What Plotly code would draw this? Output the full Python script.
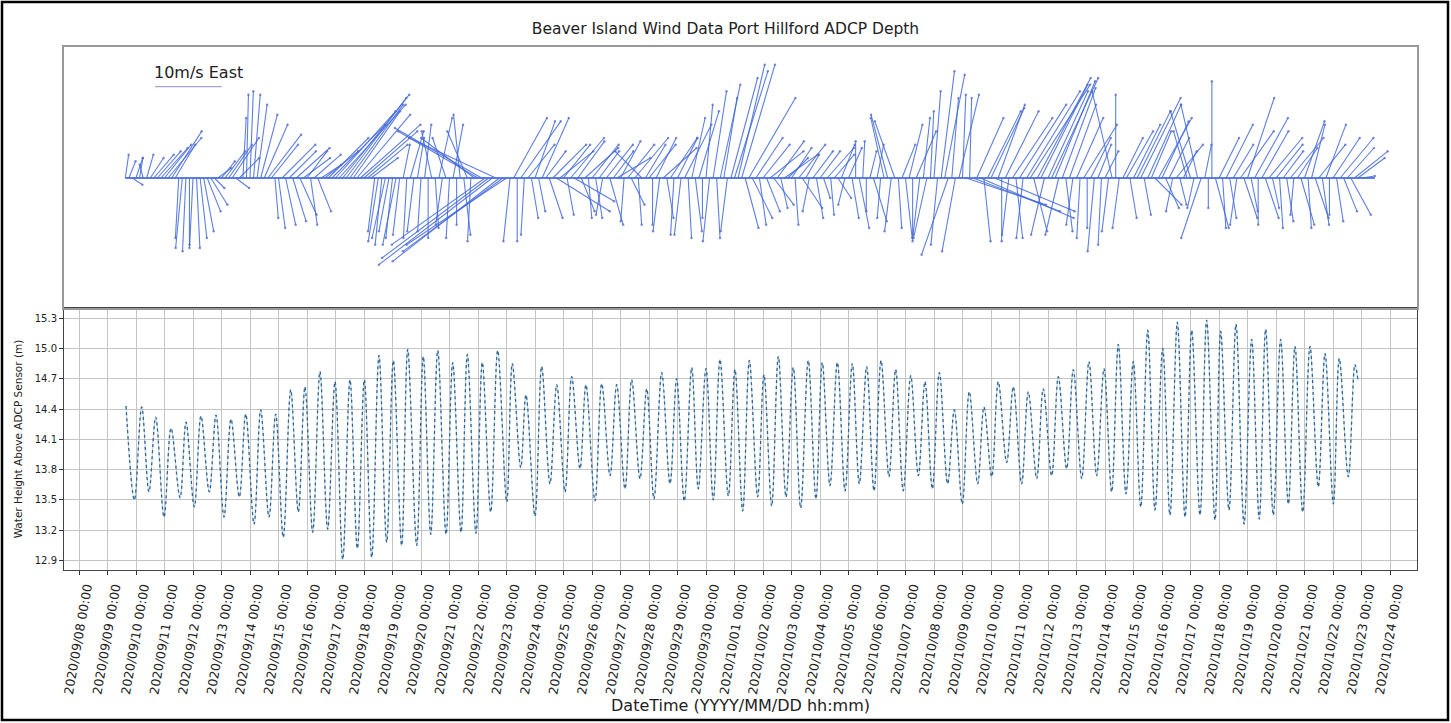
import pandas as pd
import plotly.graph_objects as go

# ---------------- data ----------------
chart_title = "Beaver Island Wind Data Port Hillford ADCP Depth"
y_title = "Water Height Above ADCP Sensor (m)"
x_title = "DateTime (YYYY/MM/DD hh:mm)"
key_label = "10m/s East"
key_speed = 10.0
key_time = "2020-09-10 16:00"
key_level = 13.7

ref_time = "2020-09-08 00:00"
# tide extremes: hours after ref_time, and height (m)
tide_hours = [39.6, 46.6, 52.8, 58.9, 64.6, 71.6, 77.5, 85.1, 90.1, 97.1, 102.7, 109.7,
              115.4, 122.1, 128.0, 135.0, 140.4, 147.4, 153.0, 160.0, 165.6, 172.0, 178.3, 184.7,
              190.3, 196.8, 202.9, 209.4, 215.6, 222.1, 228.2, 234.4, 240.3, 246.5, 252.6, 259.1,
              264.7, 271.7, 276.8, 284.4, 289.9, 296.2, 302.1, 309.1, 314.7, 321.7, 327.0, 334.3,
              339.6, 346.7, 352.6, 360.2, 364.9, 372.0, 376.4, 384.0, 389.6, 396.6, 402.3, 409.3,
              414.9, 421.9, 426.9, 434.5, 440.2, 447.2, 452.8, 459.8, 465.4, 472.4, 478.1, 484.2,
              490.7, 497.7, 503.3, 509.7, 516.0, 521.5, 528.0, 534.1, 539.8, 546.8, 552.4, 558.9,
              564.5, 571.5, 576.8, 583.3, 588.9, 595.4, 601.5, 607.7, 614.1, 620.6, 625.9, 632.4,
              638.6, 645.1, 651.2, 657.1, 663.3, 669.5, 675.4, 682.1, 687.7, 694.1, 700.4, 706.8,
              712.4, 718.6, 724.5, 731.5, 737.1, 743.8, 749.7, 756.8, 762.1, 768.6, 774.1, 781.2,
              786.8, 793.8, 799.4, 806.5, 812.0, 819.1, 824.7, 831.7, 837.3, 844.4, 850.5, 857.0,
              863.2, 869.6, 875.2, 881.7, 887.8, 894.1, 900.0, 906.1, 912.6, 918.7, 924.9, 931.4,
              937.0, 944.0, 949.6, 956.6, 961.4, 968.4, 974.3, 981.1, 987.5, 993.9, 999.3, 1005.7,
              1011.9, 1018.4, 1024.0, 1030.5, 1036.6, 1043.6, 1049.3, 1056.3, 1061.3, 1068.9, 1074.5, 1077.1]
tide_height = [14.43, 13.50, 14.42, 13.58, 14.32, 13.33, 14.21, 13.52, 14.27, 13.43, 14.33, 13.58,
               14.34, 13.33, 14.30, 13.53, 14.35, 13.26, 14.39, 13.33, 14.35, 13.13, 14.59, 13.38,
               14.62, 13.18, 14.77, 13.21, 14.67, 12.91, 14.69, 13.02, 14.69, 12.93, 14.93, 13.08,
               14.88, 13.05, 14.99, 13.05, 14.92, 13.16, 14.98, 13.16, 14.86, 13.18, 14.94, 13.17,
               14.86, 13.38, 14.98, 13.48, 14.85, 13.82, 14.54, 13.34, 14.82, 13.66, 14.64, 13.58,
               14.72, 13.81, 14.64, 13.49, 14.65, 13.74, 14.64, 13.61, 14.69, 13.71, 14.60, 13.51,
               14.76, 13.66, 14.70, 13.49, 14.81, 13.61, 14.80, 13.50, 14.89, 13.54, 14.79, 13.39,
               14.88, 13.53, 14.74, 13.44, 14.92, 13.53, 14.81, 13.42, 14.88, 13.51, 14.86, 13.64,
               14.86, 13.59, 14.85, 13.66, 14.82, 13.59, 14.88, 13.73, 14.79, 13.59, 14.73, 13.74,
               14.67, 13.61, 14.76, 13.66, 14.39, 13.46, 14.57, 13.66, 14.42, 13.73, 14.67, 13.87,
               14.62, 13.66, 14.57, 13.71, 14.60, 13.74, 14.72, 13.81, 14.79, 13.71, 14.87, 13.74,
               14.80, 13.58, 15.04, 13.56, 14.87, 13.43, 15.18, 13.40, 15.00, 13.35, 15.26, 13.33,
               15.18, 13.35, 15.28, 13.30, 15.17, 13.40, 15.24, 13.26, 15.09, 13.31, 15.19, 13.35,
               15.09, 13.46, 15.02, 13.38, 15.02, 13.63, 14.95, 13.46, 14.90, 13.73, 14.84, 14.68]

# wind (m/s), every 3 h starting at wind_start; u = east, v = north
wind_start = "2020-09-09 15:00"
wind_step = "3h"
wind_u = [
    0.5, 1, 1.5,                                  # 09/09
    1, 0.5, -0.5, 1, 2, 3, 3.5, 4,                # 09/10
    4, 5, 4.5, 3, -0.5, -1, -0.5, 0,              # 09/11
    -0.5, 0.5, 1, 1.5, 2, 2.5, 1.5, 2,            # 09/12
    2, 3, 3.5, 4, 2, 3, 0.5, 0.3,                 # 09/13
    0.5, 1, 1.5, 2.5, 3.5, 5, 4, 0.5,             # 09/14
    1, 5, 1.5, 4, 2, 5, 2.5, 4,                   # 09/15
    3, 1, 4, 2, 3, 5, 6, 8,                       # 09/16
    9, 10, 10, 9, 8, 7, 8, 9,                     # 09/17
    8, 6, 4, -1, -1.5, -1, -2, -1.5,              # 09/18
    -1, -2, -1, 1, -0.5, 2, -1, 1,                # 09/19
    -0.5, 1, 0, -1.5, 0.5, 2, -1, -2,             # 09/20
    -0.5, 1.5, 0, -1, 1, -3, -0.5, -8,            # 09/21
    -12, -13, -14, -16, -17, -13, -16, -15,       # 09/22
    -15, -1, 5, 0, 6, -0.5, 4, 1,                 # 09/23
    3, 1, 4, 3, 2, 5, 8, 5,                       # 09/24
    4, 1, 5, 6, 4, 2, 5, 0.5,                     # 09/25
    4, 1, 3, -1, 4, 2, 3, 5,                      # 09/26
    3, -0.5, 4, 2, 5, 0.5, -4, 3,                 # 09/27
    4, 0, 3, -1, 5, 1, 4, -0.5,                   # 09/28
    3, -1, 4, 0.5, 2, 1, 3, 0,                    # 09/29
    1, -1, 2, 0.5, 3, 2, -1, 4,                   # 09/30
    5, 4, 5, 2, 7, 3, 4, 1,                       # 10/01
    4, 2, 5, 3, 4, 1, 5, 3,                       # 10/02
    3, 0.5, 4, 3, 2, -1, 3, 1,                    # 10/03
    3, 1, 4, 0.5, 3, 2, 2, -1,                    # 10/04
    2, 1, 0, 1.5, 0.3, 0, 1, 2,                   # 10/05
    1, -0.5, -2, -2.5, -1, -3, 0.5, 2,            # 10/06
    1, 2, 0, 3, -1, 1, -2, 0.5,                   # 10/07
    1, -1, 2, 3, -4, 1, -2, 3,                    # 10/08
    0.5, 12, 0.3, 13, 4, 14, 1, 5,                # 10/09
    5, 12, 4, 0, 5, -1, 6, 1,                     # 10/10
    7, -1, 8, 9, 2, 8, 7, -2,                     # 10/11
    6, 7, 6, -2, 5, 1, 4, -1,                     # 10/12
    4, -0.5, 5, 0, 3, -1, 2, -0.5,                # 10/13
    2, -1, -3, 0, -1, 3, 4, 1,                    # 10/14
    4, 5, 6, 1, 5, 3, 4, 5,                       # 10/15
    4, 2, 3, -1, 4, 1, 2, -2,                     # 10/16
    -3, -1, -2.5, -3, 1, 0, 0, 2,                 # 10/17
    3, 0.5, 4, 1, 3, -1, 5, 2,                    # 10/18
    4, 1, 5, 0, 4, 2, 5, 1,                       # 10/19
    4, 0.5, 3, 1, 5, -0.5, 3, 2,                  # 10/20
    3, 0.5, 2, 2, 4, 1, 3, 0,                     # 10/21
    4, 1, 5, 2, 4, 3, 5, 4,                       # 10/22
    2,                                            # 10/23
]
wind_v = [
    3.5, 2.5, -1,                                 # 09/09
    3, 3, 2, 3.5, 3, 3.5, 4, 4.5,                 # 09/10
    5, 6, 7, 5, -9, -10.5, -11, -10.5,            # 09/11
    -10, -10.5, -9, -8, -5, -4, -1.5, 1.5,        # 09/12
    2.5, 4, 5, 6, -1.5, 3, 9, 12.5,               # 09/13
    13, 12.5, 11, 9.5, 8, 6.5, 5, -6,             # 09/14
    -7.5, 5, -7, 4, -6.5, 4.5, -5.5, 3,           # 09/15
    4, -7, 3.5, -5, 2, 4, 6, 8,                   # 09/16
    10, 11, 12.5, 12, 11, 10, 9.5, 8,             # 09/17
    7, 5, 3, -8, -9.5, -10, -9, -8,               # 09/18
    -9, -10, -8.5, 5, -9, 7, -8, 6,               # 09/19
    -8, 8, -9, 7, -7.5, 9, -7, 6,                 # 09/20
    -9, 8, -7, 9.5, -8.5, 7, -9.5, 6,             # 09/21
    7, 7.5, -10, -12, -13, 6, -12.5, -11,         # 09/22
    -10, -9.5, 9, -9.5, 8.5, -8.5, 5, -6,         # 09/23
    8.5, -5, 9, 4, -6, 5, -5, 4,                  # 09/24
    5, -5.5, 6, -3.5, 5.5, -5, 4.5, -6,           # 09/25
    5, -6, 4, -5.5, 5, -7, 4, 3,                  # 09/26
    5.5, -6.5, 5, -4, 6, -7, 4, 5,                # 09/27
    5, -7, 6, -8, 4.5, -6, 6, -8.5,               # 09/28
    6, -8.5, 8, -9, 9, -8, 10, -6,                # 09/29
    11, -9.5, 13, -9, 14, 12, -8, 15,             # 09/30
    16, 17, 17, -7.5, 12, -6, 6, -7,              # 10/01
    5, -5, 4, -4, 5.5, -4.5, 3.5, 3,              # 10/02
    4.5, -7, 5, -4.5, 3.5, -5, 4, -6,             # 10/03
    4, -3, 4.5, -5.5, 3.5, -3, 5, -4,             # 10/04
    4.5, -6, 5.5, -7.5, 5.5, -5, 4, -6.5,         # 10/05
    5, -6, 9, 9.5, -8, 8.5, -7.5, 5,              # 10/06
    -9, 8, -9.5, 7, -8.5, 9, -9, 10,              # 10/07
    13, -10, 16, 15.5, -11.5, 12, -11, 12.5,      # 10/08
    12.5, -4, 12, -5, 9, -6, -9.5, 10,            # 10/09
    10.5, -5, 11, -9.5, 10, -8.5, 9, -9,          # 10/10
    11, -9, 13, 14, -8, 15, 14, -8.5,             # 10/11
    13, 15, 14.5, -8.5, 13.5, -8, 11, -7,         # 10/12
    9, -9, 8, -7.5, 6, -11, 5, -10,               # 10/13
    4, -8, 13, 12.5, -7.5, 6, 7, -6,              # 10/14
    8, 10, 12, -5.5, 11, 7, -4, 9,                # 10/15
    8.5, -4.5, 6, -5, 5, -4, 4, 7,                # 10/16
    10, -4.5, 11, -9, 5, -4.5, 14.5, -7.5,        # 10/17
    6, -7.5, 8, -6, 5, -7, 7, -6,                 # 10/18
    12, -5, 9, -7, 7, -6, 6, -4.5,                # 10/19
    5, -7.5, 4, -6.5, 6, -5.5, 4.5, -7,           # 10/20
    8.5, -7.5, 8, -6, 5, -7, 8, -5.5,             # 10/21
    6, -6.5, 6, -5, 4.5, -5.5, 4, 3,              # 10/22
    0.3,                                          # 10/23
]

# ---------------- layout geometry ----------------
W, H = 1451, 723
ML, MR, MT, MB = 64, 34, 47, 153
plot_w = W - ML - MR
plot_h = H - MT - MB
top_px = 261
split = 1 - top_px / plot_h
x_range = [pd.Timestamp("2020-09-07 11:22"), pd.Timestamp("2020-10-24 22:44")]
top_range = [-19.5, 19.65]
bot_range = [12.806, 15.40]

px_per_hour = plot_w / ((x_range[1] - x_range[0]).total_seconds() / 3600.0)
px_per_unit = top_px / (top_range[1] - top_range[0])
hours_per_unit = px_per_unit / px_per_hour

# ---------------- wind sticks ----------------
t0 = pd.Timestamp(ref_time)
wtimes = pd.date_range(wind_start, periods=len(wind_u), freq=wind_step)
sx, sy, tx, ty = [], [], [], []
for t, u, v in zip(wtimes, wind_u, wind_v):
    tip = t + pd.Timedelta(hours=u * hours_per_unit)
    sx += [t, tip, None]
    sy += [0, v, None]
    tx.append(tip)
    ty.append(v)

stick_color = "rgba(66,104,218,0.85)"
fig = go.Figure()
fig.add_trace(go.Scatter(x=[wtimes[0], wtimes[-1] + pd.Timedelta(hours=wind_u[-1] * hours_per_unit)],
                         y=[0, 0], mode="lines",
                         line=dict(color=stick_color, width=2),
                         xaxis="x2", yaxis="y2", showlegend=False, hoverinfo="skip"))
fig.add_trace(go.Scatter(x=sx, y=sy, mode="lines", line=dict(color=stick_color, width=1.1),
                         xaxis="x2", yaxis="y2", showlegend=False, hoverinfo="skip"))
fig.add_trace(go.Scatter(x=tx, y=ty, mode="markers",
                         marker=dict(color="rgba(80,100,200,0.7)", size=2.5),
                         xaxis="x2", yaxis="y2", showlegend=False, hoverinfo="skip"))
# quiver key
kt = pd.Timestamp(key_time)
fig.add_trace(go.Scatter(x=[kt, kt + pd.Timedelta(hours=key_speed * hours_per_unit)],
                         y=[key_level, key_level], mode="lines",
                         line=dict(color="rgba(150,160,200,0.9)", width=1.2),
                         xaxis="x2", yaxis="y2", showlegend=False, hoverinfo="skip"))
fig.add_annotation(x=kt, y=key_level + 2.1, xref="x2", yref="y2", text=key_label,
                   showarrow=False, xanchor="left", yanchor="middle", xshift=-3,
                   font=dict(family="DejaVu Sans", size=16, color="#222"))

# ---------------- tide ----------------
ttimes = [t0 + pd.Timedelta(hours=h) for h in tide_hours]
fig.add_trace(go.Scatter(x=ttimes, y=tide_height, mode="lines",
                         line=dict(color="rgba(120,160,200,0.6)", width=0.8, shape="spline"),
                         showlegend=False, hoverinfo="skip"))
fig.add_trace(go.Scatter(x=ttimes, y=tide_height, mode="lines",
                         line=dict(color="#2f6690", width=1.3, shape="spline", dash="dot"),
                         showlegend=False, hoverinfo="skip"))

# ---------------- axes ----------------
tick_font = dict(family="DejaVu Sans", size=12.5, color="#222")
fig.update_layout(
    width=W, height=H,
    margin=dict(l=ML, r=MR, t=MT, b=MB),
    paper_bgcolor="white", plot_bgcolor="white",
    font=dict(family="DejaVu Sans", color="#222"),
    title=dict(text=chart_title, x=0.5, xref="container", xanchor="center",
               y=1 - 29 / H, yref="container", yanchor="middle",
               font=dict(family="DejaVu Sans", size=15.5, color="#222")),
    xaxis=dict(domain=[0, 1], anchor="y", type="date", range=x_range,
               tick0="2020-09-08", dtick=86400000, tickformat="%Y/%m/%d %H:%M",
               tickangle=-80, tickfont=tick_font, ticks="outside", ticklen=4,
               ticklabelshift=7,
               tickcolor="#333", showgrid=True, gridcolor="#c4c4c4", gridwidth=1,
               showline=True, linecolor="#444", linewidth=1, mirror=True,
               automargin=False, zeroline=False),
    yaxis=dict(domain=[0, split], anchor="x", range=bot_range, tick0=12.9, dtick=0.3,
               tickformat=".1f", tickfont=dict(family="DejaVu Sans", size=10, color="#222"),
               ticks="outside", ticklen=4, tickcolor="#333",
               showgrid=True, gridcolor="#c4c4c4", gridwidth=1,
               showline=True, linecolor="#444", linewidth=1, mirror=True,
               zeroline=False, automargin=False,
               title=dict(text=y_title, standoff=10,
                          font=dict(family="DejaVu Sans", size=10.5, color="#222"))),
    xaxis2=dict(domain=[0, 1], anchor="y2", type="date", range=x_range, matches="x",
                showticklabels=False, ticks="", showgrid=False, zeroline=False,
                showline=True, linecolor="#999", linewidth=1.5, mirror=True),
    yaxis2=dict(domain=[split, 1], anchor="x2", range=top_range, showticklabels=False,
                ticks="", showgrid=False, zeroline=False,
                showline=True, linecolor="#999", linewidth=1.5, mirror=True),
)

fig.add_annotation(x=0.5, y=-(705 - (H - MB)) / plot_h,
                   xref="paper", yref="paper", text=x_title, showarrow=False,
                   xanchor="center", yanchor="middle",
                   font=dict(family="DejaVu Sans", size=16, color="#222"))

# outer black frame of the picture
fig.add_shape(type="rect", xref="paper", yref="paper",
              x0=(2 - ML) / plot_w, x1=(W - 3 - ML) / plot_w,
              y0=-(H - 3 - (H - MB)) / plot_h, y1=((H - MB) - 2) / plot_h,
              line=dict(color="black", width=2.5), fillcolor="rgba(0,0,0,0)", layer="above")

fig.write_html("out.html", include_plotlyjs=True, config={"displayModeBar": False},
               post_script="document.body.style.margin='0';document.body.style.overflow='hidden';")
